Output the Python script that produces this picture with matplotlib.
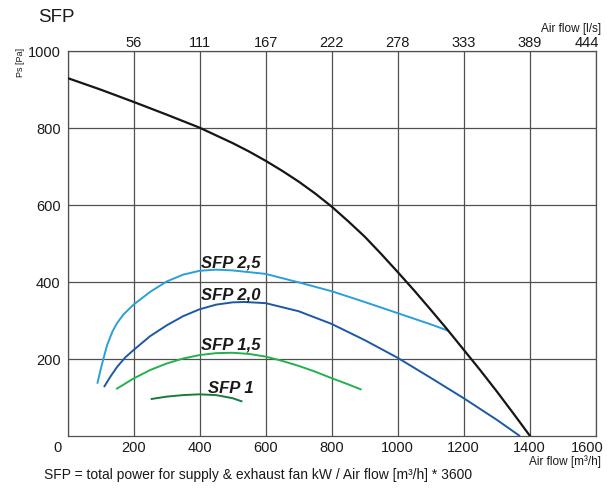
import numpy as np
import matplotlib
matplotlib.use("Agg")
import matplotlib.pyplot as plt
from matplotlib.transforms import ScaledTranslation

plt.rcParams['font.family'] = ['Liberation Sans', 'DejaVu Sans']

# ---------------- data ----------------
xticks_m3h = [0, 200, 400, 600, 800, 1000, 1200, 1400, 1600]
xticks_ls = ["56", "111", "167", "222", "278", "333", "389", "444"]
yticks = [200, 400, 600, 800, 1000]

fan_x = [0, 100, 200, 300, 400, 500, 550, 600, 650, 700, 750, 800, 850, 900, 950,
         1000, 1050, 1100, 1150, 1200, 1250, 1300, 1350, 1400]
fan_y = [929, 899, 867, 834, 800, 760, 738, 714, 688, 660, 629, 595, 557, 517, 472,
         425, 377, 327, 276, 223, 170, 115, 58, 0]

sfp25_x = [91, 100, 109, 120, 136, 150, 170, 200, 250, 300, 350, 400, 450, 500, 600, 700, 800, 900, 1000, 1100, 1151]
sfp25_y = [137, 170, 200, 235, 270, 292, 315, 340, 373, 400, 418, 428, 431, 429, 420, 398, 375, 347, 318, 289, 273]

sfp20_x = [112, 130, 150, 175, 200, 250, 300, 350, 400, 450, 500, 535, 600, 700, 800, 900, 1000, 1100, 1200, 1300, 1368]
sfp20_y = [128, 153, 178, 203, 222, 258, 286, 310, 328, 340, 346, 347, 344, 323, 290, 248, 202, 150, 97, 41, 0]

sfp15_x = [150, 200, 250, 300, 350, 400, 450, 500, 550, 600, 650, 700, 750, 800, 850, 888]
sfp15_y = [122, 148, 170, 187, 200, 209, 214, 215, 212, 205, 194, 181, 166, 149, 133, 120]

sfp10_x = [255, 300, 350, 400, 450, 500, 527]
sfp10_y = [95, 101, 105, 107, 105, 97, 89]

curve_labels = ["SFP 2,5", "SFP 2,0", "SFP 1,5", "SFP 1"]
label_x = [495, 495, 495, 495]
label_y = [440, 355, 226, 114]

# ---------------- figure ----------------
W, H = 607, 489
fig = plt.figure(figsize=(W / 100, H / 100), dpi=100)
ax = fig.add_axes([67.5 / W, 1 - 436.5 / H, (595.7 - 67.5) / W, (436.5 - 51.7) / H])

grid_c = "#505050"
ax.set_xlim(0, 1600)
ax.set_ylim(0, 1000)
ax.set_xticks(xticks_m3h)
ax.set_xticklabels([str(v) for v in xticks_m3h])
ax.set_yticks(yticks)
ax.set_yticklabels([str(v) for v in yticks])
ax.grid(True, color=grid_c, linewidth=0.9)
ax.set_axisbelow(True)
for s in ax.spines.values():
    s.set_color(grid_c)
    s.set_linewidth(0.9)
ax.tick_params(axis='both', length=0, labelsize=10.5, colors="#1a1a1a")
ax.tick_params(axis='x', pad=3)
ax.tick_params(axis='y', pad=5)

# top axis (l/s)
top = ax.twiny()
top.set_xlim(ax.get_xlim())
top.set_xticks(xticks_m3h[1:])
top.set_xticklabels(xticks_ls)
top.tick_params(axis='x', length=0, labelsize=10.5, pad=1.5, colors="#1a1a1a")
for s in top.spines.values():
    s.set_visible(False)

# shift a few tick labels as in the reference
def shift(lab, dx):
    lab.set_transform(lab.get_transform() + ScaledTranslation(dx / 100, 0, fig.dpi_scale_trans))

blabs = ax.get_xticklabels()
shift(blabs[0], -9.5)
shift(blabs[-1], -8.5)
tlabs = top.get_xticklabels()
shift(tlabs[-1], -9)

# curves
ax.plot(fan_x, fan_y, color="#161616", lw=1.6, zorder=5)
ax.plot(sfp25_x, sfp25_y, color="#2b9fdb", lw=1.4, zorder=4)
ax.plot(sfp20_x, sfp20_y, color="#1c58a6", lw=1.4, zorder=4)
ax.plot(sfp15_x, sfp15_y, color="#25b04b", lw=1.4, zorder=4)
ax.plot(sfp10_x, sfp10_y, color="#187a3c", lw=1.4, zorder=4)

for t, x, y in zip(curve_labels, label_x, label_y):
    ax.text(x, y, t, ha='center', va='baseline', fontsize=12,
            fontweight='bold', fontstyle='italic', color="#1a1a1a", zorder=6)

# texts
fig.text(37.7 / W, 1 - 17 / H, "SFP", fontsize=13.5, ha='left', va='center', color="#1a1a1a")
fig.text(601 / W, 1 - 29.3 / H, "Air flow [l/s]", fontsize=8.5, ha='right', va='center', color="#1a1a1a")
fig.text(600.7 / W, 1 - 461.5 / H, "Air flow [m³/h]", fontsize=8.5, ha='right', va='center', color="#1a1a1a")
fig.text(20.7 / W, 1 - 62.5 / H, "Ps [Pa]", fontsize=6.5, rotation=90, ha='center', va='center', color="#1a1a1a")
fig.text(44 / W, 1 - 475 / H, "SFP = total power for supply & exhaust fan kW / Air flow [m³/h] * 3600",
         fontsize=10, ha='left', va='center', color="#1a1a1a")

fig.savefig("out.png", dpi=100)
